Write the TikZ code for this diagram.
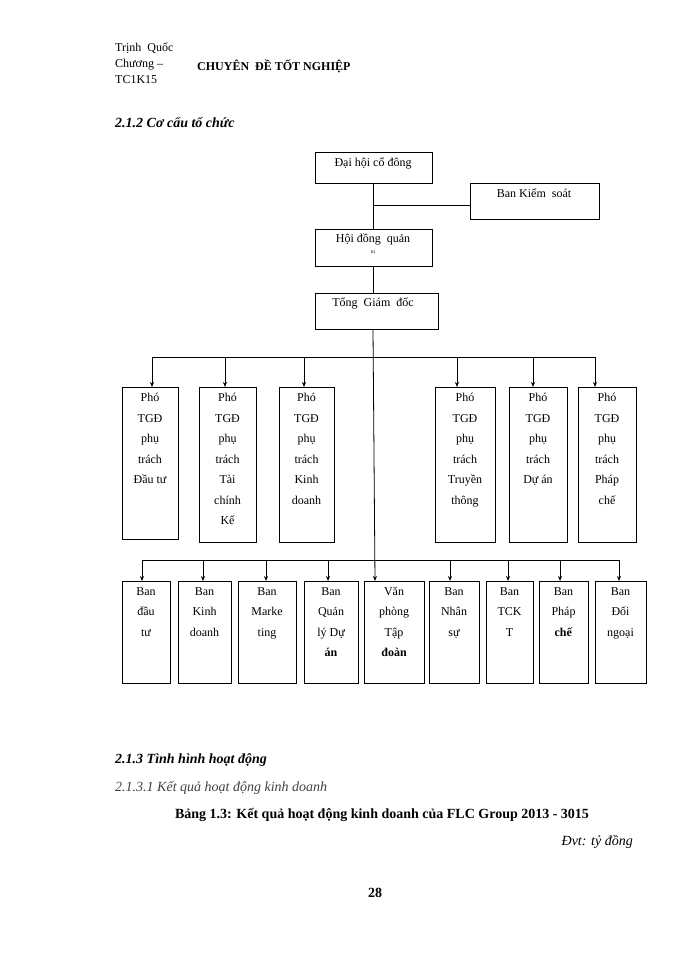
\documentclass[tikz,border=0pt]{standalone}
\usepackage{fontspec}
\setmainfont{Liberation Serif}
\usetikzlibrary{arrows.meta}
\begin{document}
\begin{tikzpicture}[x=1pt,y=-1pt,
  bx/.style={draw,line width=0.8pt,fill=white},
  tx/.style={anchor=north,align=center,font=\fontsize{12}{20.5}\selectfont,inner sep=0pt},
  ln/.style={line width=0.8pt},
  ar/.style={line width=0.8pt,-{Stealth[length=5pt,width=4pt]}}]
\useasboundingbox (0,0) rectangle (700,960);
% header
\node[anchor=north west,align=left,font=\fontsize{12}{16}\selectfont,inner sep=0pt] (h1) at (115,43) {Trịnh \ Quốc\\Chương –\\TC1K15};
\node[anchor=west,font=\fontsize{12}{13}\selectfont\bfseries,inner sep=0pt] (h2) at (197,66) {CHUYÊN \ ĐỀ TỐT NGHIỆP};
\node[anchor=west,font=\fontsize{14}{15}\selectfont\bfseries\itshape,inner sep=0pt] (s1) at (115,123) {2.1.2 Cơ cấu tổ chức};
% top boxes
\draw[bx] (315,152) rectangle (432,183); \node[tx] (dh) at (373,158) {Đại hội cổ đông};
\draw[bx] (470,183) rectangle (599,219); \node[tx] (bks) at (534,189) {Ban Kiểm \ soát};
\draw[bx] (315,229) rectangle (432,266); \node[tx,font=\fontsize{12}{16}\selectfont] (hd) at (373,234) {Hội đồng \ quản\\[-5pt]{\fontsize{5}{5}\selectfont trị}};
\draw[bx] (315,293) rectangle (438,329); \node[tx] (tgd) at (373,298) {Tổng \ Giám \ đốc};
\draw[ln] (373,183) -- (373,229);
\draw[ln] (373,205) -- (470,205);
\draw[ln] (373,266) -- (373,293);
% main trunk
\draw[ar] (373,329) -- (375,581);
% bus 1
\draw[ln] (152,357) -- (595,357);
\foreach \x/\l/\r/\b/\t in {152/122/178/539/{Phó\\TGĐ\\phụ\\trách\\Đầu tư},
  225/199/256/542/{Phó\\TGĐ\\phụ\\trách\\Tài\\chính\\Kế},
  304/279/334/542/{Phó\\TGĐ\\phụ\\trách\\Kinh\\doanh},
  457/435/495/542/{Phó\\TGĐ\\phụ\\trách\\Truyền\\thông},
  533/509/567/542/{Phó\\TGĐ\\phụ\\trách\\Dự án},
  595/578/636/542/{Phó\\TGĐ\\phụ\\trách\\Pháp\\chế}}{
  \draw[bx] (\l,387) rectangle (\r,\b);
  \draw[ar] (\x,357) -- (\x,387);
  \node[tx] at ({(\l+\r)/2},393) {\t};
}
% bus 2
\draw[ln] (142,560) -- (619,560);
\foreach \x/\l/\r/\t in {142/122/170/{Ban\\đầu\\tư},
  203/178/231/{Ban\\Kinh\\doanh},
  266/238/296/{Ban\\Marke\\ting},
  328/304/358/{Ban\\Quản\\lý Dự\\\textbf{án}},
  375/364/424/{Văn\\phòng\\Tập\\\textbf{đoàn}},
  450/429/479/{Ban\\Nhân\\sự},
  508/486/533/{Ban\\TCK\\T},
  560/539/588/{Ban\\Pháp\\\textbf{chế}},
  619/595/646/{Ban\\Đối\\ngoại}}{
  \draw[bx] (\l,581) rectangle (\r,683);
  \ifdim\x pt=375pt\else\draw[ar] (\x,560) -- (\x,581);\fi
  \node[tx] at ({(\l+\r)/2},587) {\t};
}
% lower text
\node[anchor=west,font=\fontsize{14}{15}\selectfont\bfseries\itshape,inner sep=0pt] (s2) at (115,760) {2.1.3 Tình hình hoạt động};
\node[anchor=west,font=\fontsize{14}{15}\selectfont\itshape,text=black!75,inner sep=0pt] (s3) at (115,788) {2.1.3.1 Kết quả hoạt động kinh doanh};
\node[font=\fontsize{14}{15}\selectfont\bfseries,inner sep=0pt] (cap) at (382,815) {Bảng 1.3: Kết quả hoạt động kinh doanh của FLC Group 2013 - 3015};
\node[anchor=east,font=\fontsize{14}{15}\selectfont\itshape,inner sep=0pt] (dvt) at (633,842) {Đvt: tỷ đồng};
\node[font=\fontsize{14}{15}\selectfont\bfseries,inner sep=0pt] (pg) at (375,893) {28};
\end{tikzpicture}
\end{document}
